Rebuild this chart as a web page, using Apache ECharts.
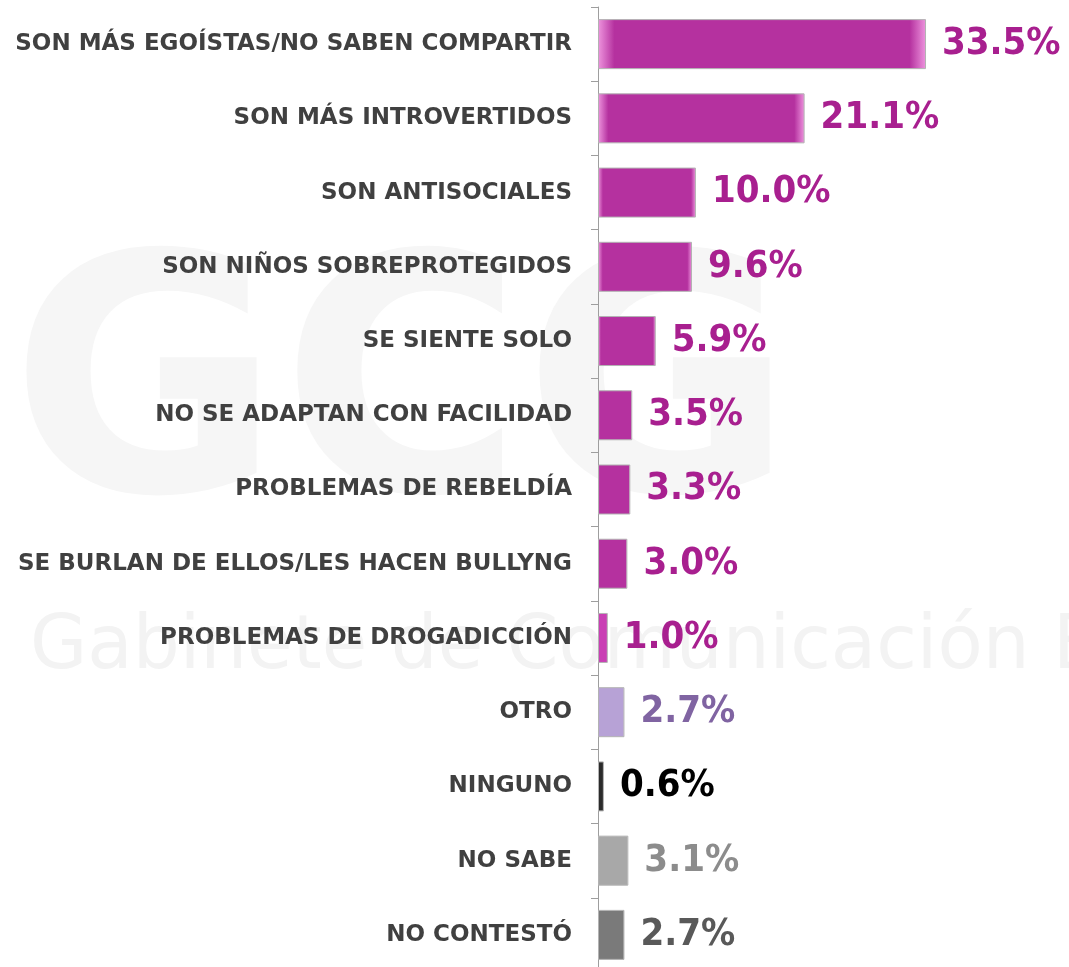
<!DOCTYPE html>
<html lang="es">
<head>
    <meta charset="UTF-8">
    <title>Bar chart</title>
    <script src="https://cdn.jsdelivr.net/npm/echarts@6/dist/echarts.min.js"></script>
</head>
<body style="margin:0;background:#fff;overflow:hidden;">
    <!-- the plot runs a few px past the bottom of the window, as in the original -->
    <div id="main" style="width:1069px;height:980px;"></div>
    <script type="text/javascript">
       var categories = ['SON MÁS EGOÍSTAS/NO SABEN COMPARTIR', 'SON MÁS INTROVERTIDOS', 'SON ANTISOCIALES',
           'SON NIÑOS SOBREPROTEGIDOS', 'SE SIENTE SOLO', 'NO SE ADAPTAN CON FACILIDAD', 'PROBLEMAS DE REBELDÍA',
           'SE BURLAN DE ELLOS/LES HACEN BULLYNG', 'PROBLEMAS DE DROGADICCIÓN', 'OTRO', 'NINGUNO', 'NO SABE', 'NO CONTESTÓ'];
       var values = [33.5, 21.1, 10.0, 9.6, 5.9, 3.5, 3.3, 3.0, 1.0, 2.7, 0.6, 3.1, 2.7];
       var barColors = ['#b5319f', '#b5319f', '#b5319f', '#b5319f', '#b5319f', '#b5319f', '#b5319f', '#b5319f', '#c93fb4',
           '#b7a2d6', '#2b2b2b', '#a8a8a8', '#7a7a7a'];
       var edgeColors = ['#ee95de', '#ee95de', '#ee95de', '#ee95de', '#ee95de', '#ee95de', '#ee95de', '#ee95de', '#f5a6e8',
           '#e4d8f3', '#6a6a6a', '#dedede', '#b5b5b5'];
       var labelColors = ['#a81f8f', '#a81f8f', '#a81f8f', '#a81f8f', '#a81f8f', '#a81f8f', '#a81f8f', '#a81f8f', '#a81f8f',
           '#8064a2', '#000000', '#8c8c8c', '#595959'];

       var myChart = echarts.init(document.getElementById('main'));

       var data = [];
       for (var i = 0; i < values.length; i++) {
           // light rims on both ends to mimic the bevelled bars
           data.push({
               value: values[i],
               itemStyle: {
                   color: new echarts.graphic.LinearGradient(0, 0, 1, 0, [
                       {offset: 0, color: edgeColors[i]},
                       {offset: 0.05, color: barColors[i]},
                       {offset: 0.95, color: barColors[i]},
                       {offset: 1, color: edgeColors[i]}
                   ]),
                   borderColor: '#b3b3b3',
                   borderWidth: 1
               },
               label: {color: labelColors[i]}
           });
       }

       var option = {
           animation: false,
           backgroundColor: '#ffffff',
           graphic: [
               {
                   type: 'text', left: 30, top: 612, silent: true, z: -10,
                   style: {text: 'Gabinete de Comunicación Estratégica', font: '74px "DejaVu Sans"', fill: '#f3f3f3'}
               },
               {
                   type: 'text', left: 10, top: 240, silent: true, z: -10,
                   style: {text: 'GCG', font: 'bold 330px "DejaVu Sans"', fill: '#f6f6f6'}
               }
           ],
           grid: {left: 598, width: 470, top: 7, height: 965, containLabel: false},
           xAxis: {
               type: 'value', min: 0, max: 48, show: false
           },
           yAxis: {
               type: 'category',
               inverse: true,
               data: categories,
               axisLine: {show: true, lineStyle: {color: '#9e9e9e', width: 1}},
               axisTick: {show: true, length: 7, lineStyle: {color: '#9e9e9e'}},
               axisLabel: {
                   margin: 26,
                   color: '#404040',
                   fontFamily: 'DejaVu Sans',
                   fontWeight: 'bold',
                   fontSize: 23
               }
           },
           series: [{
               type: 'bar',
               data: data,
               barWidth: 50,
               label: {
                   show: true,
                   position: 'right',
                   distance: 16,
                   fontFamily: 'DejaVu Sans Condensed',
                   fontWeight: 'bold',
                   fontSize: 38,
                   formatter: function (p) { return p.value.toFixed(1) + '%'; }
               }
           }]
       };

       myChart.setOption(option);
    </script>
</body>
</html>
